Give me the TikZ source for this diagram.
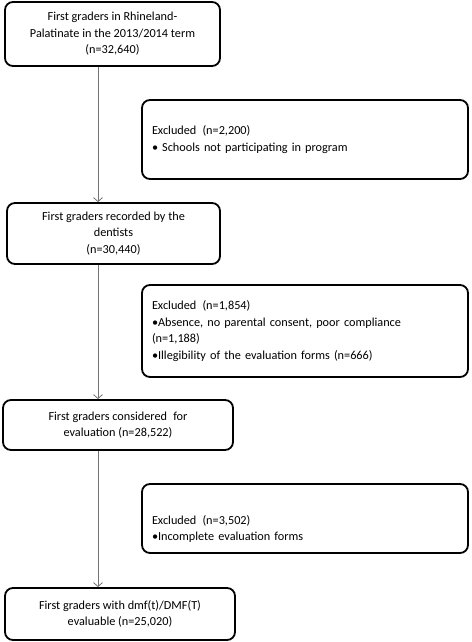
\documentclass[tikz,border=0pt]{standalone}
\usepackage{fontspec}
\setmainfont{Carlito}
\usetikzlibrary{arrows.meta}

\tikzset{
	mainbox/.style={draw, line width=1.8bp, rounded corners=8bp, fill=white, align=center, inner sep=0pt, font=\fontsize{12.3}{16.5}\selectfont},
	excbox/.style={draw, line width=1.8bp, rounded corners=8bp, fill=white, align=left, inner xsep=10bp, inner ysep=0pt, text width=306bp, minimum width=326bp, font=\fontsize{12.3}{16.5}\selectfont},
	flow/.style={draw=black!55, line width=0.8bp, -{Straight Barb[length=4bp,width=9bp]}},
}

\begin{document}
\begin{tikzpicture}[x=1bp,y=-1bp]
	\useasboundingbox (0,0) rectangle (472,642);
	% nodes
	\node[mainbox, minimum width=215bp, minimum height=64bp] (grade1) at (112.5,34) {First graders in Rhineland-\\Palatinate in the 2013/2014 term\\(n=32,640)};%
	\node[mainbox, minimum width=213bp, minimum height=61bp] (recorded) at (113.5,233.5) {First graders recorded by the\\dentists\\(n=30,440)};%
	\node[mainbox, minimum width=230bp, minimum height=50bp] (considered) at (118,425) {First graders considered\enspace for\\evaluation (n=28,522)};%
	\node[mainbox, minimum width=230bp, minimum height=52bp] (evaluable) at (120,614) {First graders with dmf(t)/DMF(T)\\evaluable (n=25,020)};%

	\node[excbox, minimum height=79bp] (excl1) at (305,139.5) {Excluded\enspace (n=2,200)\\\textbullet\ Schools not participating in program};%
	\node[excbox, minimum height=92bp] (excl2) at (305,331) {Excluded\enspace (n=1,854)\\\textbullet Absence, no parental consent, poor compliance\\(n=1,188)\\\textbullet Illegibility of the evaluation forms (n=666)};%
	\node[excbox, minimum height=69bp] (excl3) at (305,518.5) {\rule{0pt}{30bp}Excluded\enspace (n=3,502)\\\textbullet Incomplete evaluation forms};%

	% edges
	\coordinate (spine) at (98,0);
	\draw[flow] (grade1.south -| spine) -- (recorded.north -| spine);
	\draw[flow] (recorded.south -| spine) -- (considered.north -| spine);
	\draw[flow] (considered.south -| spine) -- (evaluable.north -| spine);
\end{tikzpicture}
\end{document}
